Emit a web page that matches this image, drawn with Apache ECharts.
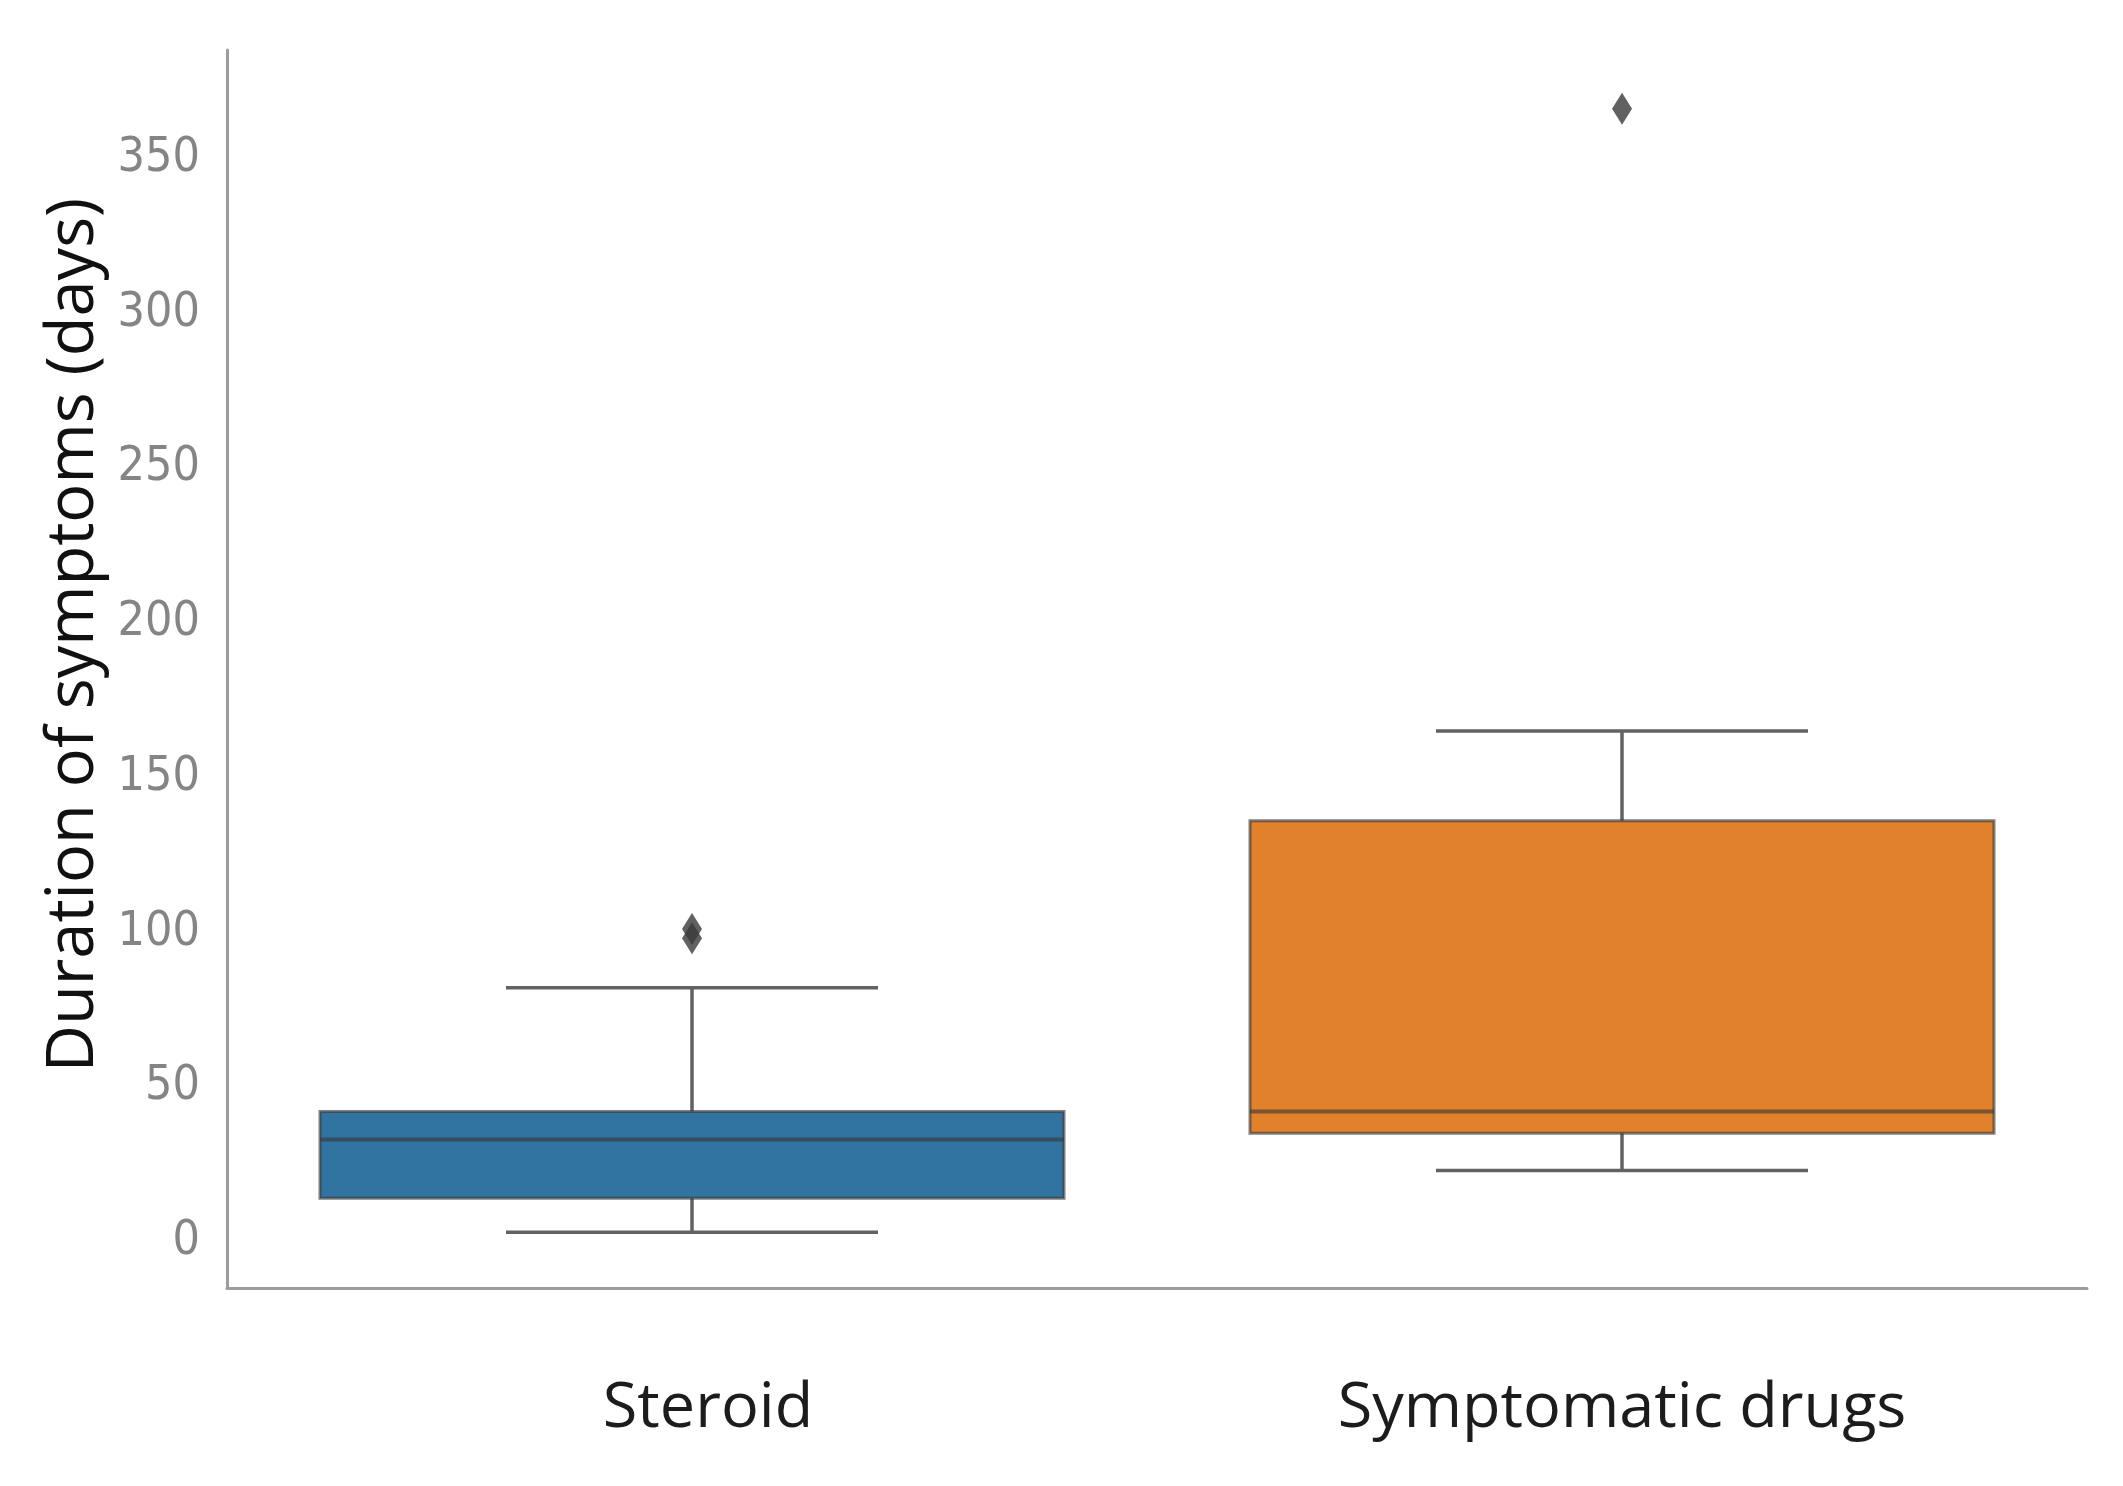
<!DOCTYPE html>
<html>
<head>
<meta charset="utf-8">
<script src="https://cdn.jsdelivr.net/npm/echarts@6/dist/echarts.min.js"></script>
<style>
html,body{margin:0;padding:0;background:#fff;}
#chart{width:2123px;height:1486px;}
</style>
</head>
<body>
<div id="chart"></div>
<script>
// ---- data ----
const categories = ['Steroid', 'Symptomatic drugs'];
// [lower whisker, Q1, median, Q3, upper whisker]
const steroidBox = [3, 14, 33, 42, 82];
const symptomaticBox = [23, 35, 42, 136, 165];
const steroidOutliers = [98, 101];
const symptomaticOutliers = [366];
const yTicks = [0, 50, 100, 150, 200, 250, 300, 350];

// ---- styling ----
const fillColors = ['#3274a1', '#e1812c'];

const boxes = [steroidBox, symptomaticBox];
const outliers = [steroidOutliers, symptomaticOutliers];
const boxData = boxes.map((b, i) => [i].concat(b));
const outlierData = [];
outliers.forEach((arr, i) => arr.forEach(v => outlierData.push([i, v])));

const chart = echarts.init(document.getElementById('chart'), null, {renderer: 'canvas'});

const labelFont = '"Open Sans", "Noto Sans", sans-serif';

const option = {
  backgroundColor: '#ffffff',
  animation: false,
  grid: {left: 227, right: 36, top: 50, bottom: 198, containLabel: false},
  xAxis: {
    type: 'category',
    data: categories,
    boundaryGap: true,
    axisLine: {show: true, onZero: false, lineStyle: {color: '#9c9c9c', width: 3}},
    axisTick: {show: false},
    splitLine: {show: false},
    axisLabel: {
      margin: 90,
      color: '#1c1c1c',
      fontSize: 63,
      fontFamily: labelFont,
      formatter: function (v, i) { return i === 0 ? '{a|' + v + '}' : '{b|' + v + '}'; },
      rich: {
        a: {color: '#1c1c1c', fontSize: 63, fontFamily: labelFont, padding: [0, 0, 0, 32]},
        b: {color: '#1c1c1c', fontSize: 63, fontFamily: labelFont}
      }
    }
  },
  yAxis: {
    type: 'value',
    min: -15,
    max: 385,
    name: 'Duration of symptoms (days)',
    nameLocation: 'middle',
    nameRotate: 90,
    nameGap: 110,
    nameTextStyle: {
      color: '#111111',
      fontSize: 65,
      fontFamily: labelFont,
      padding: [0, 0, 0, 68]
    },
    axisLine: {show: true, lineStyle: {color: '#9c9c9c', width: 3}},
    axisTick: {show: false},
    splitLine: {show: false},
    axisLabel: {
      customValues: yTicks,
      margin: 27,
      color: '#858585',
      fontSize: 48,
      padding: [9, 0, 0, 0],
      fontFamily: '"Liberation Sans Narrow", "DejaVu Sans Condensed", "Liberation Sans", sans-serif'
    }
  },
  series: [
    {
      type: 'custom',
      data: boxData,
      encode: {x: 0, y: [1, 2, 3, 4, 5]},
      z: 2,
      renderItem: function (params, api) {
        const idx = api.value(0);
        const lo = api.coord([idx, api.value(1)]);
        const q1 = api.coord([idx, api.value(2)]);
        const med = api.coord([idx, api.value(3)]);
        const q3 = api.coord([idx, api.value(4)]);
        const hi = api.coord([idx, api.value(5)]);
        const band = api.size([1, 0])[0];
        const bw = band * 0.8;
        const cw = band * 0.4;
        const cx = lo[0];
        const wStyle = {stroke: '#626262', lineWidth: 3.5, fill: null};
        return {
          type: 'group',
          children: [
            {type: 'line', shape: {x1: cx, y1: q3[1], x2: cx, y2: hi[1]}, style: wStyle},
            {type: 'line', shape: {x1: cx, y1: q1[1], x2: cx, y2: lo[1]}, style: wStyle},
            {type: 'line', shape: {x1: cx - cw / 2, y1: hi[1], x2: cx + cw / 2, y2: hi[1]}, style: wStyle},
            {type: 'line', shape: {x1: cx - cw / 2, y1: lo[1], x2: cx + cw / 2, y2: lo[1]}, style: wStyle},
            {
              type: 'rect',
              shape: {x: cx - bw / 2, y: q3[1], width: bw, height: q1[1] - q3[1]},
              style: {fill: fillColors[idx], stroke: 'rgba(60,60,60,0.65)', lineWidth: 3}
            },
            {type: 'line', shape: {x1: cx - bw / 2, y1: med[1], x2: cx + bw / 2, y2: med[1]},
              style: {stroke: 'rgba(55,55,55,0.6)', lineWidth: 4}}
          ]
        };
      }
    },
    {
      type: 'scatter',
      data: outlierData,
      symbol: 'diamond',
      symbolSize: [20, 32],
      z: 3,
      itemStyle: {color: '#3a3a3a'}
    }
  ]
};
chart.setOption(option);
</script>
</body>
</html>
